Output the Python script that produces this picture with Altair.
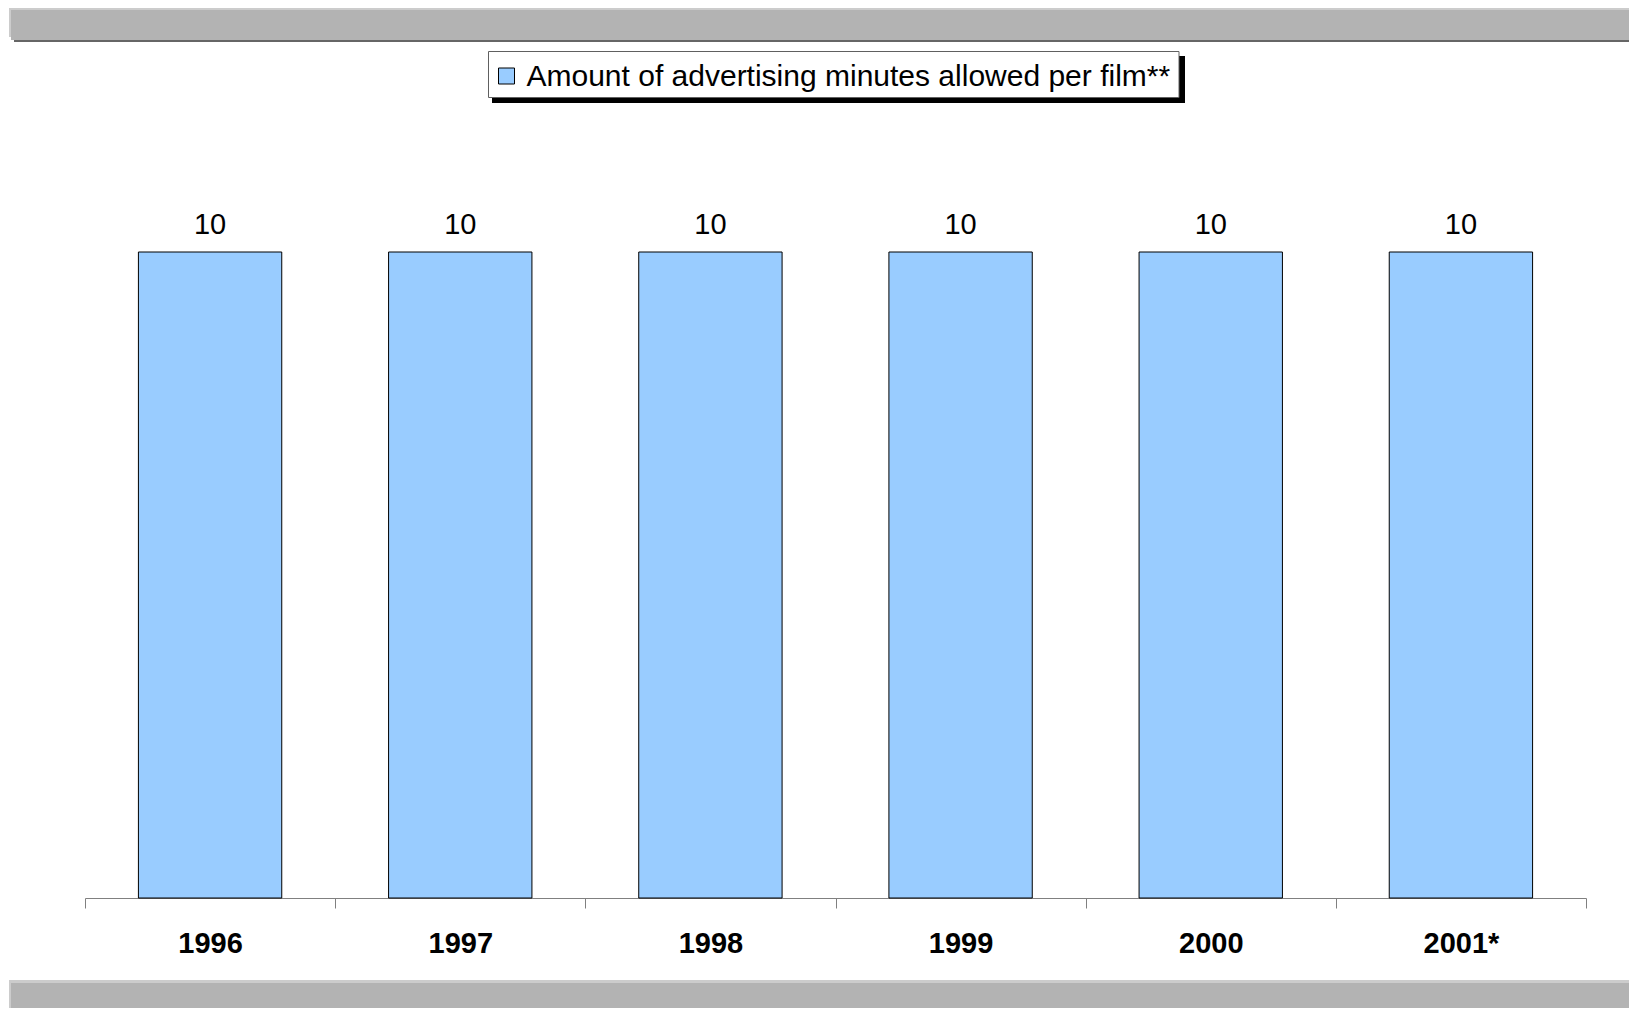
import altair as alt
import pandas as pd

years = ["1996", "1997", "1998", "1999", "2000", "2001*"]
values = [10, 10, 10, 10, 10, 10]
series_names = ["Amount of advertising minutes allowed per film**"]
bar_color = ["#99ccff"]

df = pd.DataFrame({"year": years, "value": values, "series": series_names * len(years)})
leg_df = pd.DataFrame({"series": series_names})

FONT = "Liberation Sans"
one = alt.Data(values=[{}])

color_scale = alt.Scale(domain=series_names, range=bar_color)

x_enc = alt.X(
    "year:N",
    sort=years,
    title=None,
    scale=alt.Scale(paddingInner=0, paddingOuter=0),
    axis=alt.Axis(
        labelAngle=0,
        labelFontSize=29,
        labelFontWeight="bold",
        labelFont=FONT,
        labelColor="black",
        labelPadding=21,
        tickSize=10,
        tickColor="#808080",
        domainColor="#808080",
        tickBand="extent",
        grid=False,
    ),
)
y_enc = alt.Y("value:Q", axis=None, scale=alt.Scale(domain=[0, 10]))

bars = alt.Chart(df).mark_bar(
    stroke="black", strokeWidth=1, width=alt.RelativeBandSize(0.573)
).encode(
    x=x_enc,
    y=y_enc,
    color=alt.Color("series:N", scale=color_scale, legend=None),
)

labels = alt.Chart(df).mark_text(
    baseline="alphabetic", dy=-18, fontSize=29, font=FONT, color="black"
).encode(x=alt.X("year:N", sort=years), y="value:Q", text="value:Q")


def box(x, x2, y, y2, color, **kw):
    return alt.Chart(one).mark_rect(color=color, **kw).encode(
        x=alt.value(x), x2=alt.value(x2), y=alt.value(y), y2=alt.value(y2)
    )


decor = [
    box(-76, 1544, -244, -215, "#cccccc"),
    box(-74, 1544, -242, -212, "#b3b3b3"),
    box(-71, 1544, -212, -210, "#666666"),
    box(-76, 1544, 728, 756, "#cccccc"),
    box(-74, 1544, 731, 756, "#b3b3b3"),
    # legend shadow and frame
    box(407, 1100, -196, -149, "black"),
    box(403.5, 1094, -200.5, -154.5, "white", stroke="#606060", strokeWidth=1),
]

leg_symbol = alt.Chart(leg_df).mark_rect(stroke="black", strokeWidth=1).encode(
    x=alt.value(413.5),
    x2=alt.value(429.5),
    y=alt.value(-184),
    y2=alt.value(-168),
    color=alt.Color("series:N", scale=color_scale, legend=None),
)
leg_text = alt.Chart(leg_df).mark_text(
    align="left", baseline="alphabetic", fontSize=30, font=FONT, color="black"
).encode(x=alt.value(441.5), y=alt.value(-166), text="series:N")

chart = alt.layer(*decor, leg_symbol, leg_text, bars, labels).properties(
    width=1501,
    height=646,
    autosize=alt.AutoSizeParams(type="none"),
    padding={"left": 77, "top": 244, "right": 43, "bottom": 110},
).configure(font=FONT).configure_view(strokeWidth=0, stroke=None)

chart.save("out.html", embed_options={"renderer": "svg", "actions": False})
